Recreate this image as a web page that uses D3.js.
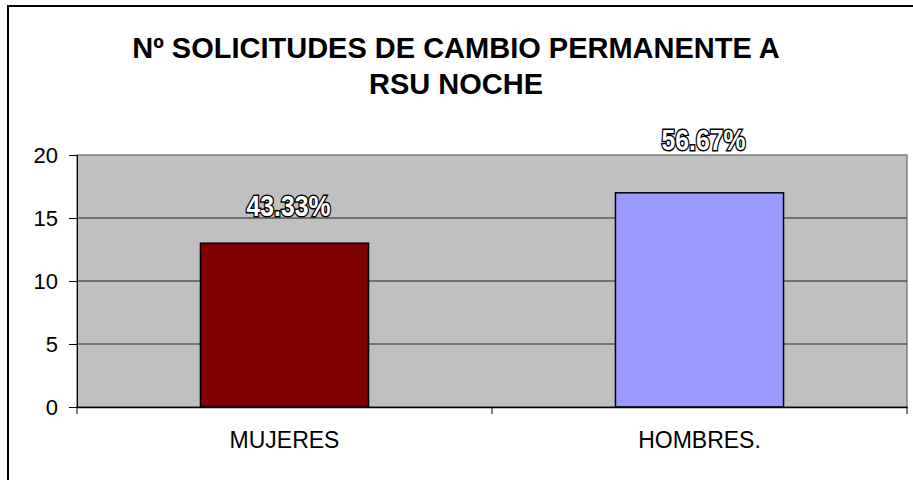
<!DOCTYPE html>
<html>
<head>
<meta charset="utf-8">
<script src="https://cdn.jsdelivr.net/npm/d3@7"></script>
<style>
  body { margin: 0; background: #fff; }
  svg { display: block; font-family: "Liberation Sans", Arial, sans-serif; }
</style>
</head>
<body>
<script>
var titleLines = ["Nº SOLICITUDES DE CAMBIO PERMANENTE A", "RSU NOCHE"];
var categories = ["MUJERES", "HOMBRES."];
var values = [13, 17];
var percentLabels = ["43.33%", "56.67%"];
var barColors = ["#800000", "#9999FF"];
var yTicks = [0, 5, 10, 15, 20];

var svg = d3.select("body").append("svg").attr("width", 913).attr("height", 480),
    margin = {top: 155, right: 6, bottom: 73, left: 77},
    width = 913 - margin.left - margin.right,
    height = 480 - margin.top - margin.bottom;

// outer chart border (right/bottom fall outside the picture)
svg.append("rect")
    .attr("x", 8).attr("y", 6)
    .attr("width", 940).attr("height", 500)
    .attr("fill", "none").attr("stroke", "#000").attr("stroke-width", 2);

svg.append("text")
    .attr("text-anchor", "middle")
    .style("font-weight", "bold").style("font-size", "29px")
  .selectAll("tspan")
  .data(titleLines)
  .enter().append("tspan")
    .attr("x", 456)
    .attr("y", function(d, i) { return 58 + i * 36; })
    .text(function(d) { return d; });

var x = d3.scaleBand().domain(categories).range([0, width]).paddingInner(0).paddingOuter(0),
    y = d3.scaleLinear().domain([0, 20]).range([height, 0]);

var g = svg.append("g")
    .attr("transform", "translate(" + margin.left + "," + margin.top + ")");

g.append("rect")
    .attr("width", width).attr("height", height)
    .attr("fill", "#C0C0C0").attr("stroke", "#808080").attr("stroke-width", 1.5);

g.selectAll(".grid")
    .data(yTicks.filter(function(d) { return d > 0 && d < 20; }))
  .enter().append("line")
    .attr("class", "grid")
    .attr("x1", 0).attr("x2", width)
    .attr("y1", function(d) { return y(d); })
    .attr("y2", function(d) { return y(d); })
    .attr("stroke", "#222").attr("stroke-width", 1);

var bw = x.bandwidth() * 0.405;
g.selectAll(".bar")
    .data(values)
  .enter().append("rect")
    .attr("class", "bar")
    .attr("x", function(d, i) { return x(categories[i]) + (x.bandwidth() - bw) / 2; })
    .attr("y", function(d) { return y(d); })
    .attr("width", bw)
    .attr("height", function(d) { return height - y(d); })
    .attr("fill", function(d, i) { return barColors[i]; })
    .attr("stroke", "#000").attr("stroke-width", 1.5);

var yAxis = g.append("g")
    .call(d3.axisLeft(y).tickValues(yTicks).tickSize(8).tickPadding(11));
yAxis.attr("font-size", 22).attr("font-family", null);
yAxis.select(".domain").attr("stroke", "#000");
yAxis.selectAll("line").attr("stroke", "#000");
yAxis.selectAll("text").attr("fill", "#000");

var xAxis = g.append("g")
    .attr("transform", "translate(0," + height + ")")
    .call(d3.axisBottom(x).tickSize(0).tickPadding(25));
xAxis.attr("font-size", 23).attr("font-family", null);
xAxis.select(".domain").attr("stroke", "#000").attr("stroke-width", 1.5);
xAxis.selectAll("text").attr("fill", "#000");

// category separator ticks
g.selectAll(".xtick")
    .data([0, 1, 2])
  .enter().append("line")
    .attr("class", "xtick")
    .attr("x1", function(d) { return d * x.bandwidth(); })
    .attr("x2", function(d) { return d * x.bandwidth(); })
    .attr("y1", height).attr("y2", height + 7)
    .attr("stroke", "#000");

var labelLift = [36, 52];
g.selectAll(".pct")
    .data(values)
  .enter().append("text")
    .attr("class", "pct")
    .attr("x", function(d, i) { return x(categories[i]) + x.bandwidth() / 2 + 4; })
    .attr("y", function(d, i) { return y(d) - labelLift[i] + 9; })
    .attr("text-anchor", "middle")
    .style("font-size", "30px").style("font-weight", "bold")
    .attr("textLength", 84).attr("lengthAdjust", "spacingAndGlyphs")
    .attr("fill", "#fff").attr("stroke", "#000").attr("stroke-width", 3)
    .attr("paint-order", "stroke")
    .text(function(d, i) { return percentLabels[i]; });
</script>
</body>
</html>
